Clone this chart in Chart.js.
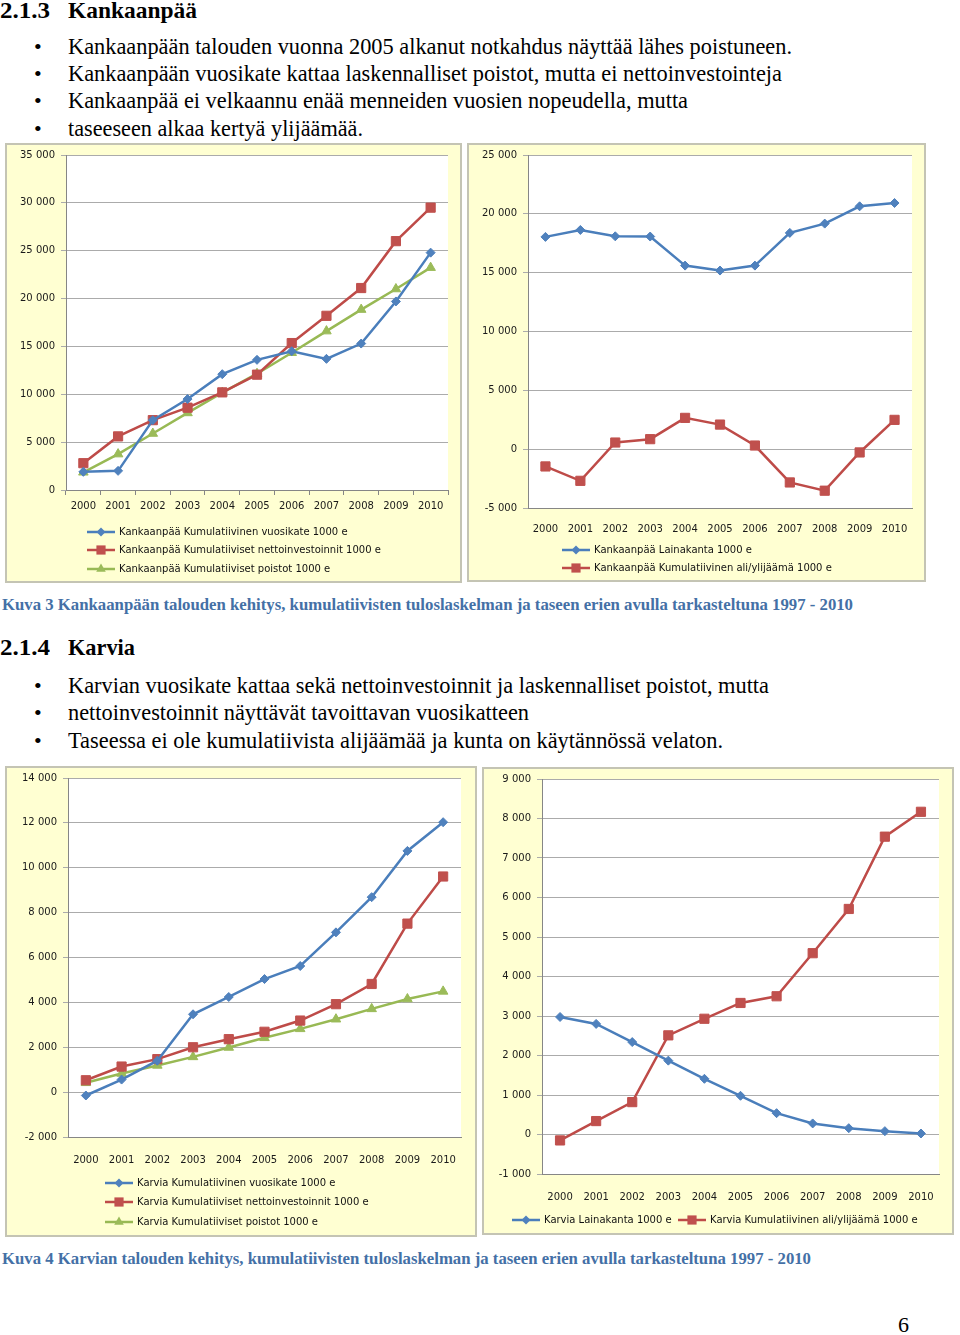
<!DOCTYPE html>
<html>
<head>
<meta charset="utf-8">
<script src="https://cdn.jsdelivr.net/npm/chart.js@4.4.1/dist/chart.umd.min.js"></script>
<style>
body { margin: 0; background: #fff; }
#page { position: relative; width: 960px; height: 1335px; overflow: hidden; font-family: "Liberation Serif", "Times New Roman", serif; color: #000; }
.t { position: absolute; white-space: nowrap; transform-origin: 0 50%; line-height: 24px; height: 24px; }
.h { font-weight: bold; font-size: 24px; }
.b { font-size: 22.5px; }
.dot { font-size: 22px; }
.cap { font-weight: bold; font-size: 17px; color: #4470A6; }
.box { position: absolute; background: #FFFFD2; box-shadow: inset 0 0 0 2px #C4C4B4; }
.box canvas { position: absolute; left: 0; top: 0; }
</style>
</head>
<body>
<div id="page">
  <div class="t h" style="left:0;top:-2px" data-w="50">2.1.3</div>
  <div class="t h" style="left:68px;top:-2px" data-w="129">Kankaanpää</div>

  <div class="t dot" style="left:34px;top:35px">•</div>
  <div class="t b" style="left:68px;top:35px" data-w="724">Kankaanpään talouden vuonna 2005 alkanut notkahdus näyttää lähes poistuneen.</div>
  <div class="t dot" style="left:34px;top:62px">•</div>
  <div class="t b" style="left:68px;top:62px" data-w="714">Kankaanpään vuosikate kattaa laskennalliset poistot, mutta ei nettoinvestointeja</div>
  <div class="t dot" style="left:34px;top:89px">•</div>
  <div class="t b" style="left:68px;top:89px" data-w="620">Kankaanpää ei velkaannu enää menneiden vuosien nopeudella, mutta</div>
  <div class="t dot" style="left:34px;top:117px">•</div>
  <div class="t b" style="left:68px;top:117px" data-w="295">taseeseen alkaa kertyä ylijäämää.</div>

  <div class="box" style="left:5px;top:143px;width:457px;height:440px"><canvas id="c1" width="457" height="440"></canvas></div>
  <div class="box" style="left:467px;top:143px;width:459px;height:439px"><canvas id="c2" width="459" height="439"></canvas></div>

  <div class="t cap" style="left:2px;top:593px" data-w="851">Kuva 3 Kankaanpään talouden kehitys, kumulatiivisten tuloslaskelman ja taseen erien avulla tarkasteltuna 1997 - 2010</div>

  <div class="t h" style="left:0;top:635px" data-w="50">2.1.4</div>
  <div class="t h" style="left:68px;top:635px" data-w="67">Karvia</div>

  <div class="t dot" style="left:34px;top:674px">•</div>
  <div class="t b" style="left:68px;top:674px" data-w="701">Karvian vuosikate kattaa sekä nettoinvestoinnit ja laskennalliset poistot, mutta</div>
  <div class="t dot" style="left:34px;top:701px">•</div>
  <div class="t b" style="left:68px;top:701px" data-w="461">nettoinvestoinnit näyttävät tavoittavan vuosikatteen</div>
  <div class="t dot" style="left:34px;top:729px">•</div>
  <div class="t b" style="left:68px;top:729px" data-w="655">Taseessa ei ole kumulatiivista alijäämää ja kunta on käytännössä velaton.</div>

  <div class="box" style="left:5px;top:766px;width:472px;height:471px"><canvas id="c3" width="472" height="471"></canvas></div>
  <div class="box" style="left:482px;top:767px;width:472px;height:468px"><canvas id="c4" width="472" height="468"></canvas></div>

  <div class="t cap" style="left:2px;top:1247px" data-w="809">Kuva 4 Karvian talouden kehitys, kumulatiivisten tuloslaskelman ja taseen erien avulla tarkasteltuna 1997 - 2010</div>

  <div class="t" style="left:898px;top:1313px;font-size:22px">6</div>
</div>

<script>
const years = ['2000', '2001', '2002', '2003', '2004', '2005', '2006', '2007', '2008', '2009', '2010'];

// Kankaanpää, 1000 e
const kankVuosikate = [1900, 2000, 7300, 9500, 12100, 13600, 14500, 13700, 15300, 19700, 24800];
const kankNetto = [2800, 5600, 7300, 8600, 10200, 12050, 15350, 18200, 21100, 26000, 29500];
const kankPoistot = [1850, 3750, 5900, 8050, 10170, 12150, 14340, 16600, 18850, 21000, 23230];
const kankLaina = [18040, 18630, 18090, 18070, 15600, 15180, 15600, 18380, 19170, 20640, 20920];
const kankAliYli = [-1470, -2690, 565, 850, 2660, 2090, 310, -2830, -3530, -280, 2490];

// Karvia, 1000 e
const karVuosikate = [-150, 560, 1400, 3470, 4240, 5040, 5620, 7120, 8690, 10750, 12030];
const karNetto = [530, 1140, 1470, 2000, 2360, 2690, 3190, 3920, 4820, 7510, 9610];
const karPoistot = [415, 830, 1190, 1570, 1990, 2420, 2820, 3250, 3710, 4150, 4490];
const karLaina = [2975, 2800, 2340, 1870, 1410, 980, 540, 280, 160, 85, 25];
const karAliYli = [-150, 340, 820, 2510, 2930, 3330, 3500, 4590, 5710, 7540, 8170];

const BLUE = ['#4A7EBB', '#4F81BD'];
const RED = ['#BE4B48', '#C0504D'];
const GREEN = ['#98B954', '#9BBB59'];

// squeeze text lines to the widths they have in the document
document.querySelectorAll('[data-w]').forEach(el => {
  const w = el.getBoundingClientRect().width;
  el.style.transform = 'scaleX(' + (el.dataset.w / w) + ')';
});

const fmt = v => String(v).replace(/\B(?=(\d{3})+(?!\d))/g, ' ');

Chart.defaults.font.family = '"DejaVu Sans", sans-serif';
Chart.defaults.font.size = 10;
Chart.defaults.color = '#1a1a1a';

function marker(ctx, style, x, y, r) {
  ctx.beginPath();
  if (style === 'rectRot') {
    ctx.moveTo(x, y - r); ctx.lineTo(x + r, y); ctx.lineTo(x, y + r); ctx.lineTo(x - r, y);
  } else if (style === 'rect') {
    const s = r * Math.SQRT1_2;
    ctx.rect(x - s, y - s, 2 * s, 2 * s);
  } else {
    ctx.moveTo(x, y - r); ctx.lineTo(x + r * 0.87, y + r * 0.5); ctx.lineTo(x - r * 0.87, y + r * 0.5);
  }
  ctx.closePath();
  ctx.fill();
}

// white plot area + excel style legend (line with marker)
const excelLook = {
  id: 'excelLook',
  beforeDraw(chart) {
    const a = chart.chartArea, ctx = chart.ctx;
    ctx.save();
    ctx.fillStyle = '#fff';
    ctx.fillRect(a.left, a.top, a.right - a.left, a.bottom - a.top);
    ctx.restore();
  },
  afterDraw(chart, args, opts) {
    const ctx = chart.ctx;
    ctx.save();
    ctx.font = '10px "DejaVu Sans", sans-serif';
    ctx.textBaseline = 'middle';
    chart.data.datasets.forEach((ds, i) => {
      const [x, y] = opts.pos[i];
      ctx.strokeStyle = ds.borderColor;
      ctx.lineWidth = 2.5;
      ctx.beginPath(); ctx.moveTo(x, y); ctx.lineTo(x + 28, y); ctx.stroke();
      ctx.fillStyle = ds.pointBackgroundColor;
      marker(ctx, ds.pointStyle, x + 14, y, ds.pointRadius);
      ctx.fillStyle = '#111';
      ctx.fillText(ds.label, x + 32, y + 0.5);
    });
    ctx.restore();
  }
};

function series(label, data, c, style, r) {
  return {
    label, data, borderColor: c[0], backgroundColor: c[1],
    pointBackgroundColor: c[1], pointBorderColor: c[1], pointBorderWidth: 1,
    pointStyle: style, pointRadius: r, borderWidth: 2.5, tension: 0
  };
}

function makeChart(id, datasets, L) {
  return new Chart(document.getElementById(id), {
    type: 'line',
    data: { labels: years, datasets },
    plugins: [excelLook],
    options: {
      responsive: false,
      animation: false,
      events: [],
      layout: { padding: { left: 0, top: L.top, right: L.right, bottom: 0 } },
      plugins: { legend: { display: false }, tooltip: { enabled: false }, excelLook: { pos: L.legend } },
      scales: {
        x: {
          offset: true,
          grid: { display: L.xTicks, offset: true, drawOnChartArea: false, tickLength: 5, color: '#868686' },
          border: { color: '#868686' },
          ticks: { padding: L.xPad, maxRotation: 0, autoSkip: false },
          afterFit: s => { s.height = L.xHeight; }
        },
        y: {
          min: L.min, max: L.max,
          ticks: { stepSize: L.step, padding: 6, callback: fmt },
          grid: { color: '#ABABAB', tickLength: 5 },
          border: { color: '#868686' },
          afterFit: s => { s.width = L.yWidth; }
        }
      }
    }
  });
}

makeChart('c1', [
  series('Kankaanpää Kumulatiivinen vuosikate 1000 e', kankVuosikate, BLUE, 'rectRot', 4.5),
  series('Kankaanpää Kumulatiiviset nettoinvestoinnit 1000 e', kankNetto, RED, 'rect', 6.5),
  series('Kankaanpää Kumulatiiviset poistot 1000 e', kankPoistot, GREEN, 'triangle', 5.5)
], { min: 0, max: 35000, step: 5000, top: 11, right: 14, yWidth: 61, xHeight: 93, xTicks: true, xPad: 5,
     legend: [[82, 389], [82, 407], [82, 426]] });

makeChart('c2', [
  series('Kankaanpää Lainakanta 1000 e', kankLaina, BLUE, 'rectRot', 4.5),
  series('Kankaanpää Kumulatiivinen ali/ylijäämä 1000 e', kankAliYli, RED, 'rect', 6.5)
], { min: -5000, max: 25000, step: 5000, top: 11, right: 14, yWidth: 61, xHeight: 74, xTicks: false, xPad: 10,
     legend: [[95, 407], [95, 425]] });

makeChart('c3', [
  series('Karvia Kumulatiivinen vuosikate 1000 e', karVuosikate, BLUE, 'rectRot', 4.5),
  series('Karvia Kumulatiiviset nettoinvestoinnit 1000 e', karNetto, RED, 'rect', 6.5),
  series('Karvia Kumulatiiviset poistot 1000 e', karPoistot, GREEN, 'triangle', 5.5)
], { min: -2000, max: 14000, step: 2000, top: 11, right: 16, yWidth: 63, xHeight: 100, xTicks: false, xPad: 12,
     legend: [[100, 417], [100, 436], [100, 456]] });

makeChart('c4', [
  series('Karvia Lainakanta 1000 e', karLaina, BLUE, 'rectRot', 4.5),
  series('Karvia Kumulatiivinen ali/ylijäämä 1000 e', karAliYli, RED, 'rect', 6.5)
], { min: -1000, max: 9000, step: 1000, top: 10, right: 15, yWidth: 60, xHeight: 61, xTicks: false, xPad: 12,
     legend: [[30, 453], [196, 453]] });
</script>
</body>
</html>
